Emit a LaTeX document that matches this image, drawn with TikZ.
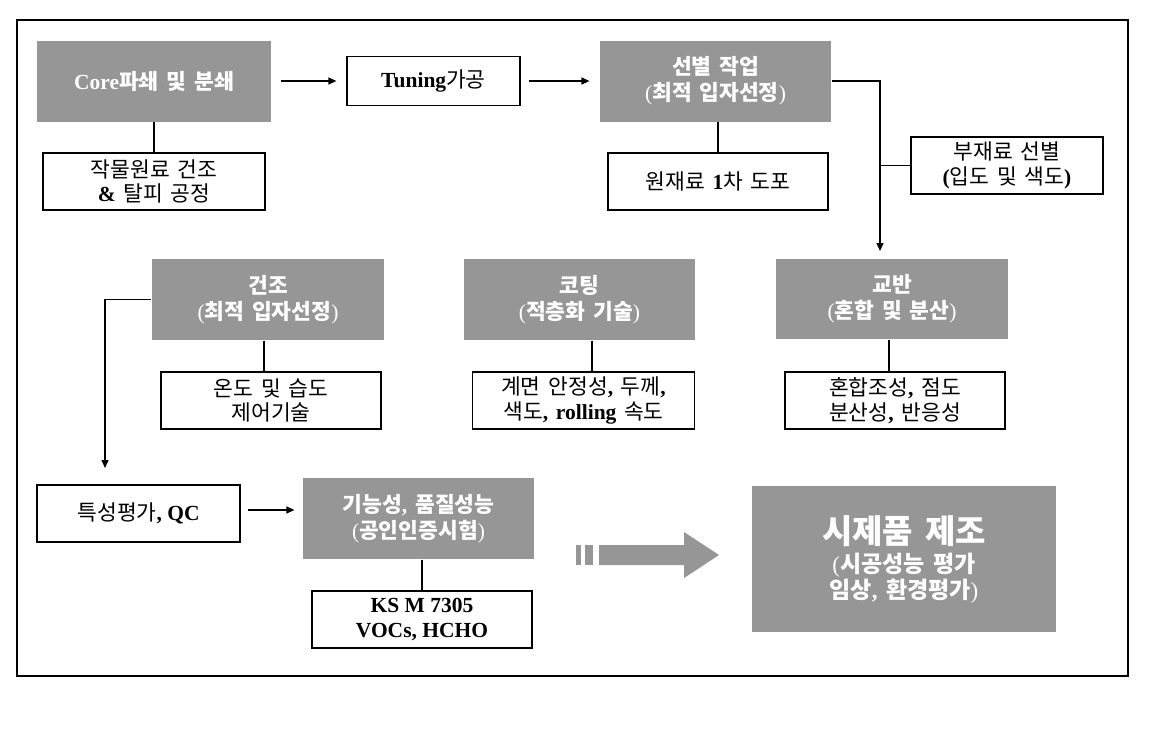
\documentclass[tikz,border=0pt]{standalone}
\usepackage{fontspec}
\setmainfont{Noto Sans CJK KR}[WordSpace=1.6]
\newfontfamily\lat{Liberation Serif}
\usetikzlibrary{arrows.meta}
\definecolor{boxgray}{RGB}{150,150,150}
\newcommand\tb[1]{{\lat\bfseries #1}}
\newcommand\lp{{\lat\mdseries(}}
\newcommand\rp{{\lat\mdseries)}}
\tikzset{
  base/.style={align=center, inner sep=0pt, font=\fontsize{21.5}{24.5}\selectfont},
  gbox/.style={base, fill=boxgray, text=white, font=\bfseries\fontsize{21.5}{26}\selectfont},
  wbox/.style={base, draw=black, fill=white, text=black},
  arr/.style={-{Triangle[length=8pt,width=7pt]}},
}
\begin{document}
\begin{tikzpicture}[x=1pt, y=-1pt, line width=1.2pt]
\fill[white] (0,0) rectangle (1152,729);
\useasboundingbox (0,0) rectangle (1152,729);
\draw (17,20) rectangle (1128,676);

% top row
\node[gbox, minimum width=234, minimum height=81] (core) at (154,81) {\tb{Core}파쇄 및 분쇄};
\node[wbox, minimum width=173, minimum height=49] (tuning) at (433.5,81) {\tb{Tuning}가공};
\node[gbox, minimum width=231, minimum height=81] (sel) at (715.5,81) {선별 작업\\\lp 최적 입자선정\rp};
\node[wbox, minimum width=222, minimum height=57] (dry0) at (154,181.5) {작물원료 건조\\\tb{\&} 탈피 공정};
\node[wbox, minimum width=220, minimum height=57] (raw1) at (718,181.5) {원재료 \tb{1}차 도포};
\node[wbox, minimum width=192, minimum height=57] (sub) at (1007,165.5) {부재료 선별\\\tb{(}입도 및 색도\tb{)}};

% middle row
\node[gbox, minimum width=232, minimum height=81] (dry) at (268,299.5) {건조\\\lp 최적 입자선정\rp};
\node[gbox, minimum width=231, minimum height=81] (coat) at (579.5,299.5) {코팅\\\lp 적층화 기술\rp};
\node[gbox, minimum width=232, minimum height=80] (mix) at (892,299) {교반\\\lp 혼합 및 분산\rp};
\node[wbox, minimum width=220, minimum height=57] (temp) at (271,400.5) {온도 및 습도\\제어기술};
\node[wbox, minimum width=222, minimum height=57] (coatsub) at (583.5,400.5) {계면 안정성\tb{,} 두께\tb{,}\\색도\tb{,} \tb{rolling} 속도};
\node[wbox, minimum width=220, minimum height=57] (mixsub) at (895,400.5) {혼합조성\tb{,} 점도\\분산성\tb{,} 반응성};

% bottom row
\node[wbox, minimum width=203, minimum height=57] (qc) at (138.5,513.5) {특성평가\tb{, QC}};
\node[gbox, minimum width=231, minimum height=81] (func) at (418.5,518.5) {기능성\tb{,} 품질성능\\\lp 공인인증시험\rp};
\node[wbox, minimum width=220, minimum height=57] (ks) at (422,619.5) {\tb{KS M 7305}\\\tb{VOCs, HCHO}};
\node[gbox, minimum width=304, minimum height=146, font=\bfseries\fontsize{23}{26}\selectfont] (proto) at (904,559)
  {{\fontsize{33}{33}\selectfont 시제품 제조}\\[3pt]\lp 시공성능 평가\\임상\tb{,} 환경평가\rp};

% big arrow
\fill[boxgray] (576,545) rectangle (581,565);
\fill[boxgray] (585,545) rectangle (593,565);
\fill[boxgray] (599,545) -- (684,545) -- (684,532) -- (719,555) -- (684,578) -- (684,565) -- (599,565) -- cycle;

% connectors
\coordinate (mixin) at (880,251);
\coordinate (qcin) at (105,468);
\draw[arr, shorten <=9pt, shorten >=10pt] (core.east) -- (tuning.west);
\draw[arr, shorten <=8pt, shorten >=10pt] (tuning.east) -- (sel.west);
\draw[arr] (sel.east) -| (mixin);
\draw (sub.west) -- (sub.west -| mixin);
\draw (core.south) -- (dry0.north);
\draw (raw1.north |- sel.south) -- (raw1.north);
\draw ([xshift=-4pt]dry.south) -- ([xshift=-4pt]dry.south |- temp.north);
\draw ([xshift=12.5pt]coat.south) -- ([xshift=12.5pt]coat.south |- coatsub.north);
\draw ([xshift=-3pt]mix.south) -- ([xshift=-3pt]mix.south |- mixsub.north);
\draw[arr] (dry.west) -| (qcin);
\draw[arr, shorten <=7pt, shorten >=8pt] ([yshift=3.5pt]qc.east) -- ([yshift=3.5pt]qc.east -| func.west);
\draw (ks.north |- func.south) -- (ks.north);
\end{tikzpicture}
\end{document}
